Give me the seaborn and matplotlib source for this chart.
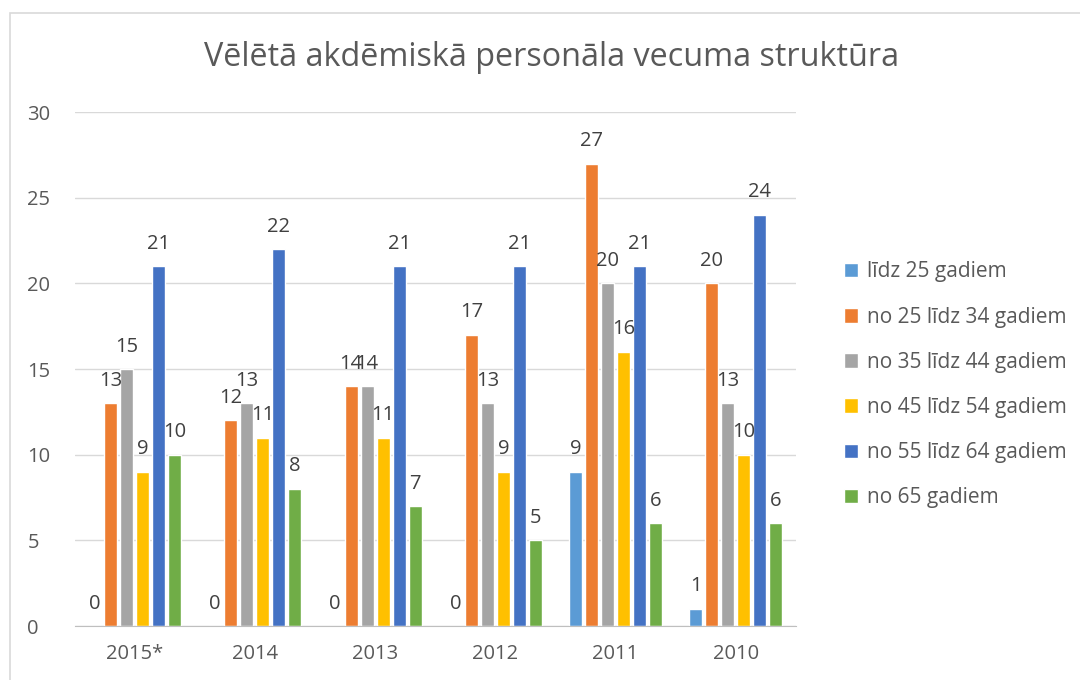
import pandas as pd
import seaborn as sns
import matplotlib.pyplot as plt
from matplotlib.patches import Rectangle

years = ["2015*", "2014", "2013", "2012", "2011", "2010"]
groups = ["līdz 25 gadiem", "no 25 līdz 34 gadiem", "no 35 līdz 44 gadiem",
          "no 45 līdz 54 gadiem", "no 55 līdz 64 gadiem", "no 65 gadiem"]
lidz_25 = [0, 0, 0, 0, 9, 1]
no_25_34 = [13, 12, 14, 17, 27, 20]
no_35_44 = [15, 13, 14, 13, 20, 13]
no_45_54 = [9, 11, 11, 9, 16, 10]
no_55_64 = [21, 22, 21, 21, 21, 24]
no_65 = [10, 8, 7, 5, 6, 6]
colors = ["#5B9BD5", "#ED7D31", "#A5A5A5", "#FFC000", "#4472C4", "#70AD47"]

series = [lidz_25, no_25_34, no_35_44, no_45_54, no_55_64, no_65]
rows = []
for g, vals in zip(groups, series):
    for y, v in zip(years, vals):
        rows.append({"year": y, "group": g, "value": v})
df = pd.DataFrame(rows)

sns.set_style("white")
plt.rcParams["font.family"] = ["Open Sans", "DejaVu Sans"]

fig = plt.figure(figsize=(10.8, 6.8), dpi=100)
ax = fig.add_axes([0.069, 0.0794, 0.668, 0.7556])

sns.barplot(data=df, x="year", y="value", hue="group", order=years,
            hue_order=groups, palette=colors, width=0.8, gap=0.19,
            saturation=1, ax=ax)

for cont in ax.containers:
    ax.bar_label(cont, padding=9, fontsize=14.5, color="#404040")

ax.set_ylim(0, 30)
ax.set_yticks(range(0, 31, 5))
ax.set_xlim(-0.5, 5.5)
ax.yaxis.grid(True, color="#D9D9D9", linewidth=1)
ax.set_axisbelow(True)
for s in ["top", "right", "left"]:
    ax.spines[s].set_visible(False)
ax.spines["bottom"].set_color("#BFBFBF")
ax.tick_params(axis="both", length=0, labelsize=14.5, labelcolor="#595959")
ax.tick_params(axis="y", pad=34)
ax.tick_params(axis="x", pad=13)
for lab in ax.get_yticklabels():
    lab.set_horizontalalignment("left")
ax.set_xlabel("")
ax.set_ylabel("")

handles, labels = ax.get_legend_handles_labels()
ax.legend(handles, labels, loc="center left", bbox_to_anchor=(0.764, 0.434),
          bbox_transform=fig.transFigure, frameon=False, fontsize=15,
          labelcolor="#595959", handlelength=0.7, handleheight=0.7,
          handletextpad=0.4, labelspacing=1.16)

fig.text(0.511, 0.915, "Vēlētā akdēmiskā personāla vecuma struktūra",
         ha="center", va="center", fontsize=23.3, color="#595959")

fig.patches.append(Rectangle((10 / 1080, -0.05), 1.1, 1.05 - 13 / 680,
                             transform=fig.transFigure, fill=False,
                             edgecolor="#D9D9D9", linewidth=1.2))

fig.savefig("out.png", dpi=100)
